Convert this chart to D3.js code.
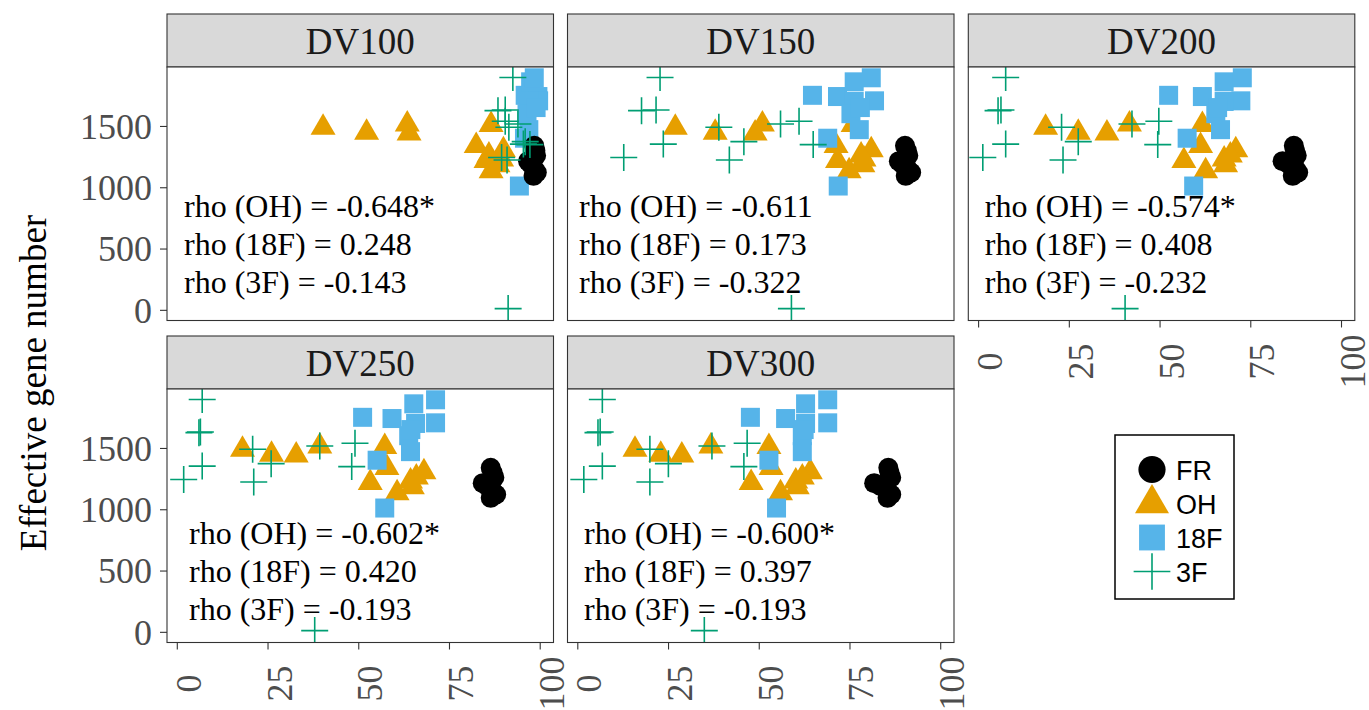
<!DOCTYPE html>
<html>
<head>
<meta charset="utf-8">
<script src="https://cdn.jsdelivr.net/npm/d3@7"></script>
<style>
  body { margin: 0; background: #ffffff; }
  svg { display: block; }
</style>
</head>
<body>
<svg id="chart" width="1369" height="710"></svg>
<script>
// ---- data -------------------------------------------------------------
const panelNames = ["DV100", "DV150", "DV200", "DV250", "DV300"];
const groupNames = ["FR", "OH", "18F", "3F"];
const xTicks = [0, 25, 50, 75, 100];
const yTicks = [0, 500, 1000, 1500];

// Effective gene number of each sample (the same samples appear in every panel)
const frGenes  = [1339, 1300, 1260, 1213, 1190, 1150, 1120, 1093];
const ohGenes  = [1516, 1475, 1470, 1543, 1538, 1368, 1244, 1162, 1258, 1333, 1210, 1290];
const f18Genes = [1750, 1740, 1860, 1893, 1705, 1700, 1600, 1470, 1400, 1010, 1650];
const f3Genes  = [1895, 1625, 1630, 1352, 1243, 1490, 1372, 1222, 1516, 1538, 1348, 10];

// x value of each sample, one row per panel (DV100 ... DV300)
const frX = [
  [98.5, 98.8, 99.0, 96.8, 97.5, 98.5, 99.2, 98.3],
  [90.3, 90.8, 91.2, 88.6, 89.5, 91.0, 92.0, 90.5],
  [87.0, 87.3, 87.8, 83.9, 85.5, 87.5, 88.2, 86.7],
  [86.5, 87.0, 87.5, 84.3, 85.5, 87.0, 88.0, 86.5],
  [85.7, 86.0, 86.5, 81.8, 83.5, 85.5, 86.5, 85.5]
];
const ohX = [
  [40.3, 52.3, 64.0, 63.5, 86.6, 82.5, 85.2, 86.6, 89.5, 90.0, 88.5, 86.0],
  [27.0, 38.0, 49.0, 51.0, 76.0, 71.3, 71.7, 74.9, 79.0, 81.0, 78.7, 78.2],
  [18.6, 27.6, 35.5, 41.7, 61.8, 61.3, 56.7, 62.7, 67.8, 71.0, 68.2, 69.5],
  [18.1, 26.1, 32.9, 39.4, 57.3, 57.9, 53.3, 60.7, 64.4, 68.1, 64.9, 66.0],
  [15.9, 23.0, 28.8, 36.8, 52.8, 53.4, 47.9, 56.0, 60.2, 64.2, 60.6, 62.0]
];
const f18X = [
  [96.0, 99.5, 97.5, 98.5, 99.7, 97.0, 96.5, 97.0, 95.8, 94.4, 99.0],
  [64.8, 71.7, 76.3, 81.0, 81.9, 76.3, 75.4, 77.7, 69.0, 71.9, 78.0],
  [52.5, 61.8, 67.8, 72.8, 72.4, 67.8, 65.5, 66.8, 57.6, 59.4, 66.0],
  [51.2, 59.3, 65.3, 71.3, 71.3, 65.8, 63.9, 64.4, 55.2, 57.3, 64.5],
  [47.7, 57.4, 62.9, 69.0, 69.0, 62.9, 62.0, 62.0, 52.8, 54.9, 62.5]
];
const f3X = [
  [92.6, 88.5, 90.5, 95.5, 89.5, 91.5, 96.0, 91.0, 94.0, 90.5, 97.3, 91.3],
  [22.8, 17.7, 21.7, 23.7, 12.8, 39.0, 45.9, 41.9, 56.0, 61.1, 65.0, 59.0],
  [7.6, 5.5, 6.3, 7.6, 1.3, 23.0, 27.6, 23.4, 42.4, 49.8, 49.5, 40.5],
  [7.0, 6.1, 6.5, 7.0, 1.9, 20.9, 26.0, 21.2, 39.4, 49.1, 48.2, 38.0],
  [6.9, 5.7, 6.3, 6.9, 1.8, 20.0, 25.1, 20.0, 37.1, 46.8, 45.9, 35.0]
];

// Spearman correlations shown in each panel
const rhoOH  = ["-0.648*", "-0.611", "-0.574*", "-0.602*", "-0.600*"];
const rho18F = ["0.248", "0.173", "0.408", "0.420", "0.397"];
const rho3F  = ["-0.143", "-0.322", "-0.232", "-0.193", "-0.193"];

// ---- layout -----------------------------------------------------------
const colLeft = [167, 567.5, 968.3];
const rowTop = [14, 336];
const panelW = 386.5, stripH = 53, plotH = 253.5;
const labelDx = [17, 11.5, 16.5, 22, 16.5];
const labelTop = [150, 155];

const colors = { "FR": "#000000", "OH": "#E69F00", "18F": "#56B4E9", "3F": "#009E73" };
const serif = "'Liberation Serif', 'Times New Roman', serif";
const sans = "'Liberation Sans', Arial, sans-serif";

const x = d3.scaleLinear().domain([-2.7, 103.8]).range([0, panelW]);
const y = d3.scaleLinear().domain([-87, 1981]).range([plotH, 0]);

const svg = d3.select("#chart");

// marker shapes
function trianglePath(w, h, centroid) {
  const top = centroid ? -2 * h / 3 : -h / 2;
  const bot = centroid ? h / 3 : h / 2;
  return `M0,${top}L${w / 2},${bot}L${-w / 2},${bot}Z`;
}
function drawMarker(g, group, cx, cy, k, legend) {
  if (group === "FR") {
    g.append("circle").attr("cx", cx).attr("cy", cy).attr("r", 10 * k)
      .attr("fill", colors.FR);
  } else if (group === "OH") {
    g.append("path").attr("d", trianglePath(25 * k, 21.5 * k, legend))
      .attr("transform", `translate(${cx},${cy})`).attr("fill", colors.OH);
  } else if (group === "18F") {
    const s = 19 * k;
    g.append("rect").attr("x", cx - s / 2).attr("y", cy - s / 2)
      .attr("width", s).attr("height", s).attr("fill", colors["18F"]);
  } else {
    const h = 13.5 * k;
    g.append("path")
      .attr("d", `M${cx - h},${cy}H${cx + h}M${cx},${cy - h}V${cy + h}`)
      .attr("stroke", colors["3F"]).attr("stroke-width", 1.6).attr("fill", "none");
  }
}

panelNames.forEach((name, i) => {
  const col = i % 3, row = Math.floor(i / 3);
  const left = colLeft[col];
  const stripTop = rowTop[row];
  const plotTop = stripTop + stripH;

  // strip
  svg.append("rect").attr("x", left).attr("y", stripTop)
    .attr("width", panelW).attr("height", stripH)
    .attr("fill", "#D9D9D9").attr("stroke", "#333333").attr("stroke-width", 1.1);
  svg.append("text").attr("x", left + panelW / 2).attr("y", stripTop + 40)
    .attr("text-anchor", "middle").attr("font-family", serif)
    .attr("font-size", 37).attr("fill", "#1A1A1A").text(name);

  const g = svg.append("g").attr("transform", `translate(${left},${plotTop})`);
  g.append("rect").attr("width", panelW).attr("height", plotH).attr("fill", "#ffffff");

  const clip = "clip-" + name;
  g.append("clipPath").attr("id", clip).append("rect")
    .attr("width", panelW).attr("height", plotH);
  const pts = g.append("g").attr("clip-path", `url(#${clip})`);

  // points: OH, 18F, FR, then 3F on top
  ohGenes.forEach((v, j) => drawMarker(pts, "OH", x(ohX[i][j]), y(v), 1, false));
  f18Genes.forEach((v, j) => drawMarker(pts, "18F", x(f18X[i][j]), y(v), 1, false));
  frGenes.forEach((v, j) => drawMarker(pts, "FR", x(frX[i][j]), y(v), 1, false));
  f3Genes.forEach((v, j) => drawMarker(pts, "3F", x(f3X[i][j]), y(v), 1, false));

  // correlation labels
  const lines = [
    `rho (OH) = ${rhoOH[i]}`,
    `rho (18F) = ${rho18F[i]}`,
    `rho (3F) = ${rho3F[i]}`
  ];
  lines.forEach((t, k) => {
    g.append("text").attr("x", labelDx[i]).attr("y", labelTop[row] + k * 38)
      .attr("font-family", serif).attr("font-size", 32).attr("fill", "#000000")
      .text(t);
  });

  // panel border
  g.append("rect").attr("width", panelW).attr("height", plotH)
    .attr("fill", "none").attr("stroke", "#333333").attr("stroke-width", 1.1);

  // y axis on the first column
  if (col === 0) {
    const ya = g.append("g").call(d3.axisLeft(y).tickValues(yTicks)
      .tickFormat(d3.format("d")).tickSize(7).tickPadding(8));
    ya.select(".domain").remove();
    ya.selectAll("line").attr("stroke", "#333333").attr("stroke-width", 1.1);
    ya.selectAll("text").attr("font-family", serif).attr("font-size", 36)
      .attr("fill", "#4D4D4D").attr("dy", "0.34em");
  }
  // x axis on panels with nothing below
  if (row === 1 || col === 2) {
    const xa = g.append("g").attr("transform", `translate(0,${plotH})`)
      .call(d3.axisBottom(x).tickValues(xTicks).tickFormat(d3.format("d")).tickSize(7));
    xa.select(".domain").remove();
    xa.selectAll("line").attr("stroke", "#333333").attr("stroke-width", 1.1);
    xa.selectAll("text").attr("font-family", serif).attr("font-size", 36)
      .attr("fill", "#4D4D4D").attr("x", 0).attr("y", 0).attr("dy", null)
      .attr("text-anchor", "middle")
      .attr("transform", "translate(23.5,41) rotate(-90)");
  }
});

// y axis title
svg.append("text").attr("transform", "translate(46,383) rotate(-90)")
  .attr("text-anchor", "middle").attr("font-family", serif)
  .attr("font-size", 37).attr("fill", "#000000").text("Effective gene number");

// legend
const lg = svg.append("g");
lg.append("rect").attr("x", 1115).attr("y", 435).attr("width", 119).attr("height", 164)
  .attr("fill", "#ffffff").attr("stroke", "#000000").attr("stroke-width", 1.5);
const legendY = [469.5, 503.5, 537.5, 571.5];
groupNames.forEach((gname, k) => {
  drawMarker(lg, gname, 1152, legendY[k], 1.36, true);
  lg.append("text").attr("x", 1176).attr("y", legendY[k] + 10.5)
    .attr("font-family", sans).attr("font-size", 27).attr("fill", "#000000").text(gname);
});
</script>
</body>
</html>
